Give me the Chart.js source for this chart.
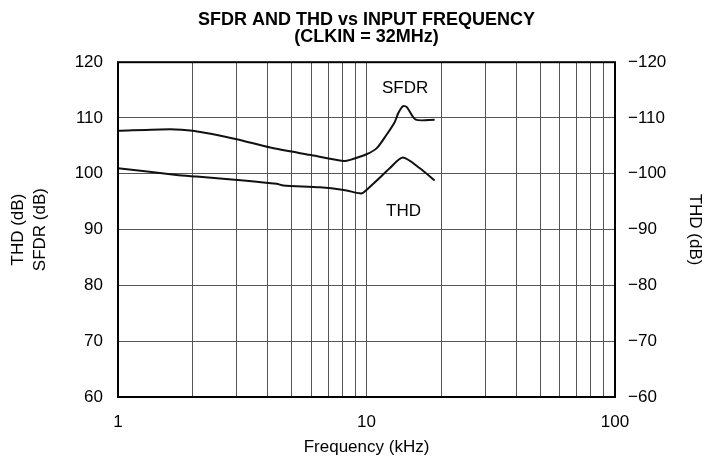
<!DOCTYPE html>
<html>
<head>
<meta charset="utf-8">
<script src="https://cdn.jsdelivr.net/npm/chart.js@4.4.1/dist/chart.umd.min.js"></script>
<style>
  html, body { margin: 0; padding: 0; background: #fff; }
  #wrap { width: 705px; height: 459px; }
</style>
</head>
<body>
<div id="wrap"><canvas id="chart" width="705" height="459"></canvas></div>
<script>
// ---------- Data ----------
const sfdrFreq = [1, 1.62, 2.0, 3.0, 4.1, 5.9, 8.1, 8.6, 10.0, 11.0, 12.0, 13.0, 13.4, 14.0, 14.5, 15.8, 18.8];
const sfdrDb   = [107.7, 108.0, 107.7, 106.2, 104.7, 103.4, 102.3, 102.5, 103.5, 104.6, 106.9, 109.3, 110.8, 112.1, 112.0, 109.7, 109.7];

const thdFreq = [1, 1.72, 2.07, 3.2, 4.35, 4.63, 6.5, 8.1, 9.4, 9.7, 11.0, 12.4, 14.0, 16.4, 18.8];
const thdDb   = [-101.0, -99.8, -99.5, -98.8, -98.2, -97.9, -97.6, -97.1, -96.5, -96.6, -98.8, -101.0, -102.9, -101.0, -98.8];

const xTicks = [1, 2, 3, 4, 5, 6, 7, 8, 9, 10, 20, 30, 40, 50, 60, 70, 80, 90, 100];
const xLabeled = [1, 10, 100];
const leftTicks = [60, 70, 80, 90, 100, 110, 120];

// curve labels: [text, freq, dB on left axis]
const curveLabels = [["SFDR", 14.3, 115.4], ["THD", 14.1, 93.2]];

const FONT = "'Liberation Sans', Arial, Helvetica, sans-serif";

// ---------- Plugins ----------
const frame = {
  id: "frame",
  afterDatasetsDraw(chart) {
    const { ctx, chartArea: a } = chart;
    ctx.save();
    ctx.strokeStyle = "#000";
    ctx.lineWidth = 2;
    ctx.strokeRect(a.left, a.top, a.right - a.left, a.bottom - a.top);
    ctx.restore();
  }
};

const curveText = {
  id: "curveText",
  afterDatasetsDraw(chart) {
    const { ctx, scales } = chart;
    ctx.save();
    ctx.font = "17px " + FONT;
    ctx.fillStyle = "#000";
    ctx.textAlign = "center";
    ctx.textBaseline = "middle";
    curveLabels.forEach(([t, f, v]) => {
      ctx.fillText(t, scales.x.getPixelForValue(f), scales.y.getPixelForValue(v));
    });
    ctx.restore();
  }
};

// ---------- Chart ----------
const ctx = document.getElementById("chart").getContext("2d");
new Chart(ctx, {
  type: "line",
  data: {
    datasets: [
      {
        label: "SFDR",
        data: sfdrFreq.map((f, i) => ({ x: f, y: sfdrDb[i] })),
        yAxisID: "y",
        borderColor: "#111",
        borderWidth: 2,
        pointRadius: 0,
        tension: 0.25,
        fill: false
      },
      {
        label: "THD",
        data: thdFreq.map((f, i) => ({ x: f, y: thdDb[i] })),
        yAxisID: "y2",
        borderColor: "#111",
        borderWidth: 2,
        pointRadius: 0,
        tension: 0.25,
        fill: false
      }
    ]
  },
  options: {
    responsive: false,
    animation: false,
    layout: { padding: 0 },
    plugins: {
      legend: { display: false },
      tooltip: { enabled: false },
      title: {
        display: true,
        fullSize: false,
        text: ["SFDR AND THD vs INPUT FREQUENCY", "(CLKIN = 32MHz)"],
        color: "#000",
        font: { family: FONT, size: 18, weight: "bold", lineHeight: 0.95 },
        padding: { top: 11, bottom: 17 },
        align: "center"
      }
    },
    scales: {
      x: {
        type: "logarithmic",
        min: 1,
        max: 100,
        afterBuildTicks: s => { s.ticks = xTicks.map(v => ({ value: v })); },
        afterFit: s => { s.height = 62; },
        ticks: {
          autoSkip: false,
          maxRotation: 0,
          padding: 15,
          color: "#000",
          font: { family: FONT, size: 17 },
          callback: v => xLabeled.includes(v) ? String(v) : ""
        },
        grid: { color: "#555", lineWidth: 1, drawTicks: false },
        border: { display: false },
        title: {
          display: true,
          text: "Frequency (kHz)",
          color: "#000",
          font: { family: FONT, size: 17 },
          padding: { top: 4, bottom: 1 }
        }
      },
      y: {
        position: "left",
        min: 60,
        max: 120,
        afterBuildTicks: s => { s.ticks = leftTicks.map(v => ({ value: v })); },
        afterFit: s => { s.width = 118; },
        ticks: {
          padding: 15,
          color: "#000",
          font: { family: FONT, size: 17 }
        },
        grid: { color: "#555", lineWidth: 1, drawTicks: false },
        border: { display: false },
        title: {
          display: true,
          text: ["THD (dB)", "SFDR (dB)"],
          color: "#000",
          font: { family: FONT, size: 17, lineHeight: 1.25 },
          padding: { top: 8, bottom: 0 }
        }
      },
      y2: {
        position: "right",
        min: -120,
        max: -60,
        reverse: true,
        afterFit: s => { s.width = 90; },
        ticks: {
          stepSize: 10,
          padding: 13,
          color: "#000",
          font: { family: FONT, size: 17 },
          callback: v => "\u2212" + Math.abs(v)
        },
        grid: { display: false, drawTicks: false },
        border: { display: false },
        title: {
          display: true,
          text: "THD (dB)",
          color: "#000",
          font: { family: FONT, size: 17 },
          padding: { top: 0, bottom: 3 }
        }
      }
    }
  },
  plugins: [frame, curveText]
});
</script>
</body>
</html>
